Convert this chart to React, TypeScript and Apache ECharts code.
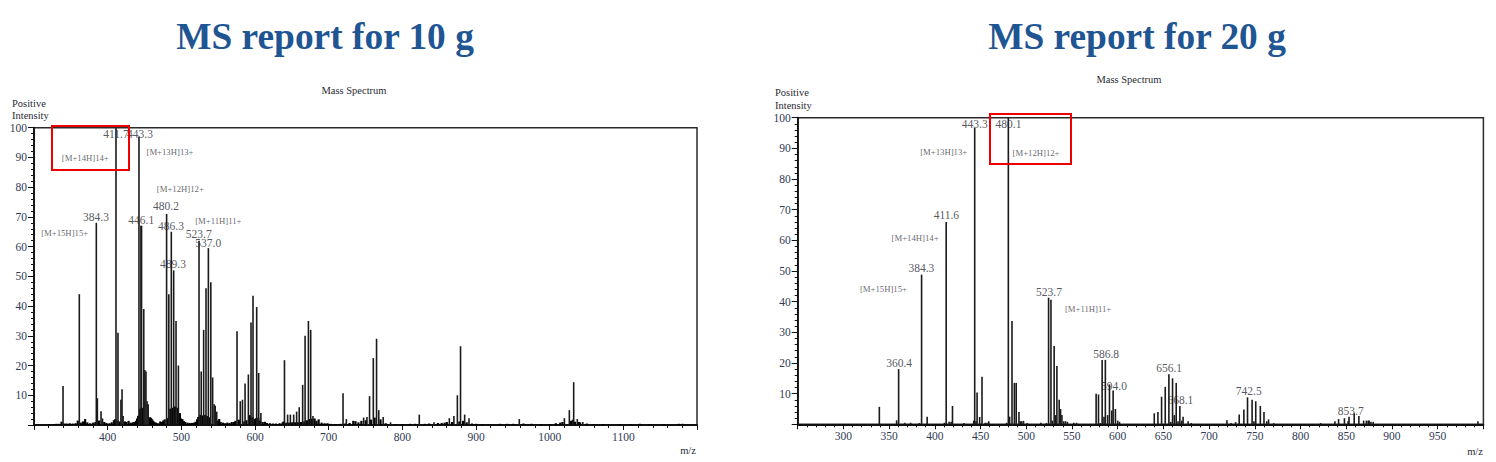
import React, { useEffect, useRef } from "react";
import * as echarts from "echarts";

const titles = ["MS report for 10 g", "MS report for 20 g"];
const serif = "'Liberation Serif', 'Times New Roman', serif";

// 10 g spectrum: main peaks [m/z, intensity]
const peaks10 = [
  [339.4, 13.1], [361.5, 44], [384.6, 68], [386, 9], [391, 4.6], [393, 2.2], [411.3, 100], [414, 31],
  [418, 8.5], [419.5, 12], [421, 3], [442.5, 97], [445.2, 67], [446, 67], [449, 39], [450.5, 18.5], [452, 18],
  [453.5, 8], [455, 7], [480, 71], [483, 44], [486.4, 65], [489.6, 52], [492.8, 35], [496, 20], [524, 62], [527, 18],
  [530.3, 32], [533.5, 46], [536.7, 59.5], [540, 48], [542.5, 16], [544.5, 7], [546, 6.5], [548, 4.5],
  [575.6, 31.5], [580, 8], [583, 8.5], [586.5, 14], [591, 17], [594.6, 34.5], [597.3, 43.5], [602.3, 39.7],
  [605, 17.5], [608, 4], [640, 21.8], [644.3, 3.5], [648, 3.5], [652.5, 3.5], [656.5, 4.5], [660, 6],
  [664.7, 13.5], [668, 30], [672.5, 35], [675.6, 32], [678.7, 3], [719.5, 10.7], [724, 2], [747.5, 2.5],
  [752, 2.7], [755.5, 9.7], [760.6, 22.5], [765, 29], [768, 5], [774, 2.7], [784, 0.9], [823, 3.5], [843, 0.9],
  [863.8, 2.3], [870, 3], [874.7, 10], [879, 26.5], [884.6, 3.5], [890.5, 2.3], [958.8, 2], [1020, 2.3],
  [1026.7, 5], [1031, 1.8], [1032.6, 14.4], [1037.5, 2], [1045, 1],
];
// 10 g spectrum: low-level chemical noise and humps under the peak clusters
const noise10 = [
  [320, 0.3], [326, 0.3], [330, 0.4], [334, 0.4], [337, 1.1], [341, 0.5], [344, 0.5], [348, 0.6], [352, 0.5], [356, 0.6],
  [359, 1.5], [363, 0.8], [366, 1.2], [369, 2], [372, 0.9], [376, 0.6], [380, 0.8], [383, 1], [388, 1.5], [395, 1], [398, 0.7],
  [402, 0.6], [405, 0.9], [408, 1.6], [410, 2], [413, 1.4], [416, 1.2], [423, 1.2], [425, 1], [428, 1.4], [431, 0.8], [434, 0.9],
  [436, 1], [438, 1.4], [439.5, 2.2], [441, 3.1], [443.5, 5.5], [447.5, 5.8], [457, 2.6], [458.5, 2.4], [460, 1.9], [461.5, 1.4], [463, 1],
  [465, 0.8], [468, 0.6], [471, 1.2], [473, 1], [475, 1.5], [477, 1.9], [481.5, 2.3], [484.6, 5.5], [488, 5.8], [491, 6.2], [494.4, 5.8],
  [497.6, 4], [499, 2.2], [501, 2], [503, 1.3], [505, 1], [508, 0.8], [511, 0.7], [514, 0.7], [517, 0.8], [519, 1.1], [521, 1.9], [522.5, 2.7],
  [525.5, 3.4], [528.7, 3.2], [532, 3.4], [535, 3], [538.4, 2.6], [549.5, 1.5], [551, 2], [553, 1], [556, 0.8], [559, 0.6], [562, 0.8], [565, 0.7],
  [568, 1], [571, 1], [573, 1.4], [577.5, 1.8], [579, 1.5], [585, 1.2], [588, 1.6], [592.8, 3.3], [596, 2.6], [599, 2], [600.8, 2.3], [604, 2.4],
  [606.5, 1.5], [610, 1], [613, 1.1], [616, 0.7], [620, 0.6], [624, 0.5], [628, 0.5], [633, 0.6], [637, 0.9], [638.5, 1.2], [642, 0.8],
  [646, 0.8], [650, 0.9], [654, 0.9], [658, 0.9], [662, 1], [666.5, 1.2], [670, 1.6], [674, 2], [677, 2.1], [680.5, 2.2], [683, 1.4], [686, 1.9], [690, 0.8],
  [694, 0.6], [698, 0.6], [702, 0.4], [708, 0.3], [712, 0.3], [716, 0.4], [722, 0.5], [728, 0.7], [733, 1.4], [736, 1.3], [740, 0.9], [744, 1.4], [750, 1.6], [757, 1.8],
  [762, 2.5], [770, 1.9], [777, 0.6], [790, 0.3], [800, 0.3], [810, 0.4], [817, 0.4], [830, 0.4], [836, 0.5], [848, 0.7], [853, 0.7], [857, 0.8], [860, 1],
  [867, 1], [877, 1.2], [882, 1.4], [887, 0.9], [894, 0.5], [900, 0.4], [908, 0.3], [920, 0.3], [932, 0.4], [942, 0.4], [950, 0.4], [964, 0.5], [975, 0.4],
  [988, 0.3], [1000, 0.3], [1008, 0.6], [1014, 0.8], [1017, 1], [1028.5, 1.4], [1034, 1.1], [1039, 1], [1041, 0.9], [1050, 0.5], [1060, 0.3], [1072, 0.3],
  [1095, 0.3], [1110, 0.3], [1122, 0.4], [1135, 0.3], [1155, 0.3], [1175, 0.4], [1180, 0.4],
];
// 20 g spectrum peaks [m/z, intensity]
const peaks20 = [
  [339.3, 5.7], [358.2, 1.3], [360.4, 18], [367, 0.5], [373.5, 0.5], [383, 0.4], [385.5, 48.8], [391.6, 2.5],
  [410.5, 0.5], [412.4, 66], [415.6, 0.8], [417.8, 0.8], [419.3, 6], [432, 0.4], [442.5, 1.2], [443.6, 96.7], [445, 1], [446.2, 10.4], [449, 2.4],
  [451.6, 15.5], [455, 0.5], [457, 0.5], [459, 1], [478.5, 0.5], [480.4, 100], [481.8, 2.5], [484.4, 33.7], [487, 13.5], [489, 13.5],
  [492, 4], [493.5, 1], [495, 1], [497, 1.1], [501, 0.4], [516, 0.5], [522, 0.4], [524.4, 41.3], [527, 40.6], [528.5, 1.2], [530.5, 25.5], [532, 3],
  [533.5, 19], [536, 8], [537.5, 5], [539, 3], [541, 1], [543, 1], [545, 0.8], [552, 0.5], [555, 0.5], [576.4, 10], [579, 9.7], [581, 0.4],
  [583, 21], [585, 2.5], [586.5, 21], [589, 3], [591, 13], [593.5, 4.5], [595, 11], [597.5, 5], [600, 1.2], [602, 0.8], [640, 3.6],
  [644, 4], [648, 9], [652, 12.2], [656, 16.3], [658, 0.8], [660, 15], [662, 3], [664, 13.5], [666, 1], [668, 6], [670, 1.2], [671.5, 2.5],
  [677, 1], [680.5, 0.4], [719.5, 1.3], [724, 0.4], [729, 0.7], [732.9, 3.2], [738, 4.8], [742, 8.8], [747, 8], [749, 1], [751, 7.5],
  [756, 6], [760, 4], [763, 1], [765, 1.6], [770.6, 0.4], [822, 0.4], [837.6, 1], [841.6, 1.7], [848, 2], [852, 1], [853, 2.5], [858.7, 3.6],
  [863.8, 2.7], [869, 1.2], [872, 1.2], [874, 1.2], [875, 1.2], [877, 0.8], [879.5, 0.8], [994, 1],
];

type Note = [string, number, number];
// Peak labels and ion annotations: [text, m/z, intensity of the text's centre]
const labels10: Note[] = [
  ["411.7", 411.3, 98], ["443.3", 443.9, 98], ["446.1", 445.6, 69], ["480.2", 479.2, 73.5], ["486.3", 486, 67],
  ["523.7", 523.6, 64.2], ["537.0", 536.6, 61.2], ["489.3", 488.7, 54.2], ["384.3", 384.2, 70],
];
const ions10: Note[] = [
  ["[M+14H]14+", 369.6, 89.8], ["[M+13H]13+", 484.6, 91.9], ["[M+12H]12+", 498.6, 79.5],
  ["[M+11H]11+", 550.2, 68.7], ["[M+15H]15+", 341.6, 64.7],
];
const labels20: Note[] = [
  ["443.3", 443.6, 98], ["480.1", 480.5, 98], ["411.6", 412.6, 68.3], ["384.3", 385.3, 50.9], ["360.4", 360.9, 19.9],
  ["523.7", 524.9, 43.2], ["586.8", 587.3, 22.8], ["594.0", 596, 12.5], ["656.1", 656.2, 18.3], ["668.1", 668.6, 7.8],
  ["742.5", 743.3, 10.8], ["853.7", 854.9, 4.2],
];
const ions20: Note[] = [
  ["[M+13H]13+", 409.7, 88.9], ["[M+12H]12+", 510.7, 88.5], ["[M+14H]14+", 378.4, 60.9],
  ["[M+15H]15+", 343.8, 44.1], ["[M+11H]11+", 567.6, 37.7],
];

const textColor = "#2a2a34";
const ionColor = "#3c3c46";
const lineColor = "#1a1a1a";

function panel(i: number, grid: any, xMin: number, xMax: number, interval: number) {
  return {
    grid: { ...grid, show: true, borderColor: "#2b2b2b", borderWidth: 1.5, backgroundColor: "transparent" },
    xAxis: {
      type: "value", gridIndex: i, min: xMin, max: xMax, interval,
      splitLine: { show: false }, minorSplitLine: { show: false },
      axisLine: { show: true, onZero: false, lineStyle: { color: "#111", width: 1.8 } },
      axisTick: { show: true, length: 5, lineStyle: { color: "#111", width: 1 } },
      minorTick: { show: true, splitNumber: 5, length: 3, lineStyle: { color: "#111", width: 1 } },
      axisLabel: {
        margin: 6, fontFamily: serif, fontSize: 11.5, color: "#2f3a55",
        formatter: (v: number) => (v === xMin || v === xMax ? "" : String(v)),
      },
    },
    yAxis: {
      type: "value", gridIndex: i, min: 0, max: 100, interval: 10,
      splitLine: { show: false }, minorSplitLine: { show: false },
      axisLine: { show: true, lineStyle: { color: "#111", width: 1.8 } },
      axisTick: { show: true, length: 6, lineStyle: { color: "#111", width: 1 } },
      minorTick: { show: true, splitNumber: 5, length: 3, lineStyle: { color: "#111", width: 1 } },
      axisLabel: {
        margin: 7, fontFamily: serif, fontSize: 11.5, color: "#2f3a55",
        formatter: (v: number) => (v === 0 ? "" : String(v)),
      },
    },
  };
}

function bars(i: number, data: number[][], width: number, color: string) {
  return {
    type: "bar", xAxisIndex: i, yAxisIndex: i, data, barWidth: width, barGap: "-100%", silent: true,
    itemStyle: { color },
  };
}

function notes(i: number, data: Note[], size: number, color: string) {
  return {
    type: "scatter", xAxisIndex: i, yAxisIndex: i, symbolSize: 0, silent: true, z: 5,
    data: data.map((d) => ({ value: [d[1], d[2]], name: d[0] })),
    label: {
      show: true, position: "inside", align: "center", verticalAlign: "middle",
      formatter: (p: any) => p.name, fontFamily: serif, fontSize: size, color,
    },
  };
}

function txt(x: number, y: number, text: string, fontSize: number, extra: any = {}) {
  return {
    type: "text", x, y,
    style: { text, fontFamily: serif, fontSize, fill: textColor, textAlign: "center", textVerticalAlign: "middle", ...extra },
  };
}

function box(x: number, y: number, width: number, height: number) {
  return {
    type: "rect", z: 10, shape: { x, y, width, height },
    style: { fill: "none", stroke: "#ee0000", lineWidth: 2 },
  };
}

export default function App() {
  const ref = useRef<HTMLDivElement>(null);
  useEffect(() => {
    document.body.style.margin = "0";
    const chart = echarts.init(ref.current!, undefined, { renderer: "svg" });
    const p0 = panel(0, { left: 34, top: 127.7, width: 663, height: 297.3 }, 300, 1200, 100);
    const p1 = panel(1, { left: 797.7, top: 117.7, width: 685.7, height: 306.6 }, 250, 1000, 50);
    chart.setOption({
      animation: false,
      backgroundColor: "#fff",
      grid: [p0.grid, p1.grid],
      xAxis: [p0.xAxis, p1.xAxis],
      yAxis: [p0.yAxis, p1.yAxis],
      series: [
        bars(0, noise10, 2.2, "#000"), bars(0, peaks10, 1.6, lineColor), notes(0, labels10, 11.5, textColor), notes(0, ions10, 8.7, ionColor),
        bars(1, peaks20, 1.6, lineColor), notes(1, labels20, 11.5, textColor), notes(1, ions20, 8.7, ionColor),
      ],
      graphic: [
        txt(325, 36, titles[0], 37.4, { fontWeight: "bold", fill: "#1F5592" }),
        txt(1137, 36, titles[1], 37.4, { fontWeight: "bold", fill: "#1F5592" }),
        txt(354, 90.5, "Mass Spectrum", 10.5),
        txt(1129, 79.5, "Mass Spectrum", 10.5),
        txt(12, 103, "Positive", 10.5, { textAlign: "left" }),
        txt(12, 115.5, "Intensity", 10.5, { textAlign: "left" }),
        txt(775, 92.5, "Positive", 10.5, { textAlign: "left" }),
        txt(775, 105, "Intensity", 10.5, { textAlign: "left" }),
        txt(688, 450, "m/z", 10.5),
        txt(1475, 451, "m/z", 10.5),
        box(52, 126, 77, 44),
        box(990, 114, 81, 50),
      ],
    });
    return () => chart.dispose();
  }, []);
  return <div ref={ref} style={{ width: 1496, height: 462 }} />;
}
